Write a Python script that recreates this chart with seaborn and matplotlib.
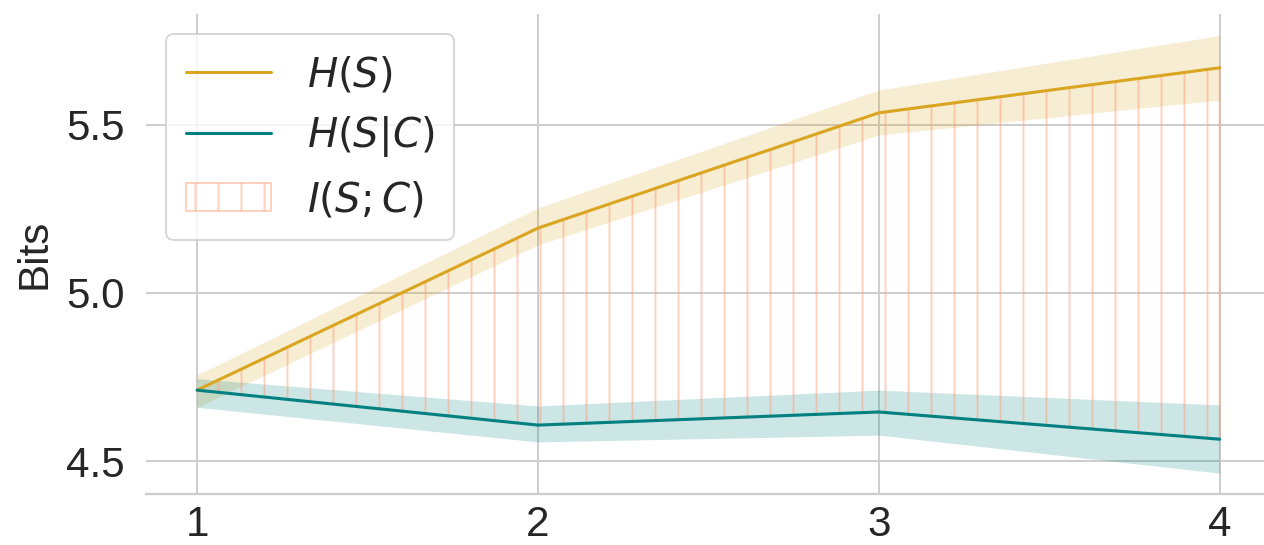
import matplotlib
matplotlib.use("Agg")
import matplotlib.pyplot as plt
import seaborn as sns
import numpy as np
import pandas as pd

steps = [1, 2, 3, 4]
h_s = [4.711, 5.193, 5.536, 5.670]
h_s_lo = [4.660, 5.143, 5.470, 5.574]
h_s_hi = [4.756, 5.253, 5.604, 5.766]
h_sc = [4.711, 4.607, 4.646, 4.565]
h_sc_lo = [4.660, 4.557, 4.577, 4.464]
h_sc_hi = [4.745, 4.664, 4.711, 4.667]

gold = "#DAA520"
teal = "#008080"
salmon = "#FFA07A"

sns.set_theme(style="whitegrid", font_scale=1.0)
plt.rcParams["font.family"] = ["Liberation Sans", "DejaVu Sans"]
plt.rcParams["hatch.linewidth"] = 1.0
plt.rcParams["mathtext.fontset"] = "dejavusans"

DPI = 138
fig = plt.figure(figsize=(1264 / DPI, 545 / DPI), dpi=DPI)
ax = fig.add_axes([146 / 1264, 51 / 545, 1 - 146 / 1264, (494 - 14) / 545])

df = pd.DataFrame({"x": steps, "hs": h_s, "hsc": h_sc})
sns.lineplot(data=df, x="x", y="hs", color=gold, lw=1.6, ax=ax, label=r"$H(S)$")
sns.lineplot(data=df, x="x", y="hsc", color=teal, lw=1.6, ax=ax, label=r"$H(S|C)$")
ax.fill_between(steps, h_s_lo, h_s_hi, color=gold, alpha=0.2, lw=0)
ax.fill_between(steps, h_sc_lo, h_sc_hi, color=teal, alpha=0.2, lw=0)
ax.fill_between(steps, h_sc, h_s, facecolor="none", edgecolor=salmon, hatch="|",
                alpha=0.5, lw=1.0, label=r"$I(S;C)$")

ax.set_xlim(0.85, 4.13)
ax.set_ylim(4.402, 5.83)
ax.set_xticks(steps)
ax.set_xticklabels([str(s) for s in steps])
ax.set_yticks([4.5, 5.0, 5.5])
ax.set_yticklabels(["4.5", "5.0", "5.5"])
ax.tick_params(axis="x", labelsize=22, pad=0)
ax.tick_params(axis="y", labelsize=22, pad=5)
ax.set_xlabel("")
ax.set_ylabel("Bits", fontsize=22, labelpad=6)
sns.despine(ax=ax, left=True)
ax.spines["bottom"].set_color("#cccccc")
ax.spines["bottom"].set_linewidth(1.2)

leg = ax.legend(loc="upper left", fontsize=21, frameon=True,
                handlelength=2.1, handletextpad=0.9, borderpad=0.5, labelspacing=0.5)
leg.get_frame().set_edgecolor("#cccccc")

fig.savefig("out.png", dpi=DPI)
